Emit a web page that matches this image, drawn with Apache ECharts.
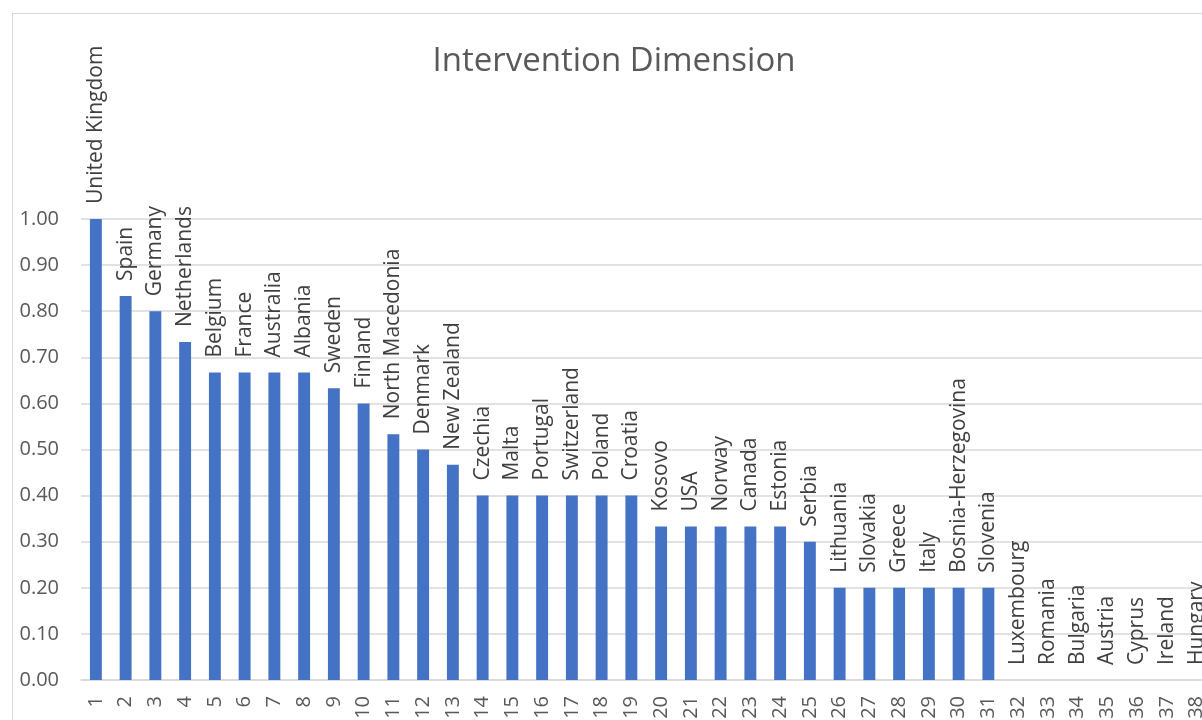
<!DOCTYPE html>
<html>
<head>
<meta charset="utf-8">
<script src="https://cdn.jsdelivr.net/npm/echarts@6/dist/echarts.min.js"></script>
<style>
html,body{margin:0;padding:0;width:1202px;height:720px;overflow:hidden;background:#fff;}
#chart{position:absolute;left:12px;top:13px;width:1202px;height:740px;border:1px solid #d9d9d9;}
</style>
</head>
<body>
<div id="chart"></div>
<script>
const chartTitle = "Intervention Dimension";
const ranks = ["1","2","3","4","5","6","7","8","9","10","11","12","13","14","15","16","17","18","19","20","21","22","23","24","25","26","27","28","29","30","31","32","33","34","35","36","37","38"];
const countries = ["United Kingdom","Spain","Germany","Netherlands","Belgium","France","Australia","Albania","Sweden","Finland","North Macedonia","Denmark","New Zealand","Czechia","Malta","Portugal","Switzerland","Poland","Croatia","Kosovo","USA","Norway","Canada","Estonia","Serbia","Lithuania","Slovakia","Greece","Italy","Bosnia-Herzegovina","Slovenia","Luxembourg","Romania","Bulgaria","Austria","Cyprus","Ireland","Hungary"];
const scores = [1.00,0.833,0.80,0.733,0.667,0.667,0.667,0.667,0.633,0.60,0.533,0.50,0.467,0.40,0.40,0.40,0.40,0.40,0.40,0.333,0.333,0.333,0.333,0.333,0.30,0.20,0.20,0.20,0.20,0.20,0.20,0,0,0,0,0,0,0];
const yTicks = [0,0.1,0.2,0.3,0.4,0.5,0.6,0.7,0.8,0.9,1.0];

const font = "'Open Sans', sans-serif";
const chart = echarts.init(document.getElementById('chart'));
chart.setOption({
  animation: false,
  title: {
    text: chartTitle, left: 'center', top: 26,
    textStyle: {fontFamily: font, fontSize: 33, fontWeight: 'normal', color: '#595959'}
  },
  grid: {left: 68, right: 3.5, top: 205, bottom: 74, containLabel: false},
  xAxis: {
    type: 'category', data: ranks,
    axisLine: {show: true, lineStyle: {color: '#d9d9d9', width: 1.5}},
    axisTick: {show: false},
    axisLabel: {rotate: 90, margin: 16, fontFamily: font, fontSize: 20, color: '#595959', interval: 0}
  },
  yAxis: {
    type: 'value', min: 0, max: 1, interval: 0.1,
    axisLine: {show: false}, axisTick: {show: false},
    splitLine: {lineStyle: {color: '#d9d9d9', width: 1.5}},
    axisLabel: {margin: 22, fontFamily: font, fontSize: 20, color: '#595959',
      formatter: v => v.toFixed(2)}
  },
  series: [{
    type: 'bar', barWidth: '40%',
    data: scores.map((v, i) => ({value: v, name: countries[i]})),
    itemStyle: {color: '#4472C4'},
    label: {
      show: true, position: 'top', rotate: 90, align: 'left', verticalAlign: 'middle',
      distance: 15, fontFamily: font, fontSize: 21, color: '#404040',
      formatter: p => countries[p.dataIndex]
    }
  }]
});
</script>
</body>
</html>
